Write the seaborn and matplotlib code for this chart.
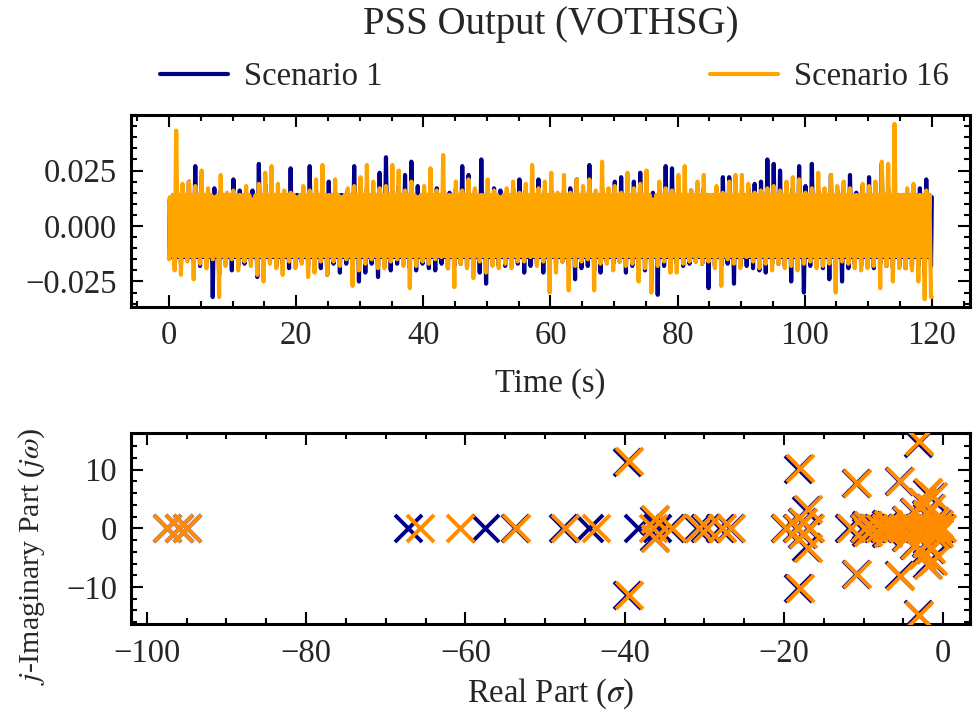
import numpy as np
import pandas as pd
import matplotlib
matplotlib.use("Agg")
import matplotlib.pyplot as plt
import seaborn as sns
from matplotlib.ticker import MultipleLocator

# ---------------- data ----------------
series_names = ["Scenario 1", "Scenario 16"]
title_text = "PSS Output (VOTHSG)"

# PSS output: per-second local maxima / minima of each scenario (t = 0 ... 119 s)
s16_hi = [0.013, 0.043, 0.019, 0.020, 0.018, 0.025, 0.017, 0.013, 0.023, 0.015,
          0.016, 0.014, 0.018, 0.012, 0.019, 0.024, 0.027, 0.019, 0.016, 0.015,
          0.013, 0.018, 0.016, 0.021, 0.0275, 0.014, 0.021, 0.013, 0.017, 0.018,
          0.022, 0.0275, 0.020, 0.017, 0.018, 0.0275, 0.025, 0.016, 0.020, 0.013,
          0.018, 0.026, 0.016, 0.032, 0.014, 0.020, 0.016, 0.021, 0.017, 0.014,
          0.021, 0.016, 0.013, 0.017, 0.020, 0.015, 0.019, 0.0275, 0.017, 0.020,
          0.024, 0.015, 0.023, 0.015, 0.021, 0.018, 0.021, 0.016, 0.029, 0.017,
          0.018, 0.015, 0.024, 0.017, 0.019, 0.025, 0.012, 0.020, 0.017, 0.016,
          0.023, 0.027, 0.016, 0.020, 0.023, 0.014, 0.018, 0.015, 0.020, 0.023,
          0.023, 0.019, 0.015, 0.016, 0.017, 0.018, 0.016, 0.020, 0.022, 0.021,
          0.015, 0.017, 0.024, 0.017, 0.023, 0.018, 0.020, 0.017, 0.014, 0.019,
          0.018, 0.020, 0.029, 0.028, 0.046, 0.014, 0.017, 0.019, 0.014, 0.016]
s16_lo = [-0.020, -0.022, -0.016, -0.024, -0.017, -0.019, -0.015, -0.032, -0.018, -0.015,
          -0.020, -0.016, -0.018, -0.022, -0.025, -0.017, -0.019, -0.022, -0.016, -0.019,
          -0.017, -0.023, -0.021, -0.016, -0.022, -0.016, -0.018, -0.015, -0.027, -0.020,
          -0.017, -0.015, -0.019, -0.019, -0.016, -0.015, -0.018, -0.028, -0.018, -0.016,
          -0.017, -0.015, -0.014, -0.019, -0.0275, -0.017, -0.019, -0.0235, -0.016, -0.021,
          -0.018, -0.019, -0.017, -0.019, -0.016, -0.016, -0.014, -0.018, -0.016, -0.030,
          -0.021, -0.016, -0.029, -0.018, -0.016, -0.015, -0.029, -0.017, -0.017, -0.020,
          -0.016, -0.018, -0.017, -0.025, -0.019, -0.030, -0.018, -0.016, -0.021, -0.021,
          -0.017, -0.016, -0.016, -0.017, -0.016, -0.019, -0.027, -0.015, -0.017, -0.019,
          -0.014, -0.016, -0.019, -0.017, -0.020, -0.017, -0.019, -0.018, -0.020, -0.017,
          -0.016, -0.019, -0.018, -0.017, -0.030, -0.016, -0.017, -0.019, -0.020, -0.019,
          -0.018, -0.028, -0.018, -0.025, -0.019, -0.019, -0.020, -0.025, -0.033, -0.032]
s1_hi = [0.012, 0.014, 0.016, 0.020, 0.027, 0.022, 0.015, 0.017, 0.016, 0.014,
         0.021, 0.016, 0.015, 0.016, 0.028, 0.019, 0.015, 0.014, 0.012, 0.026,
         0.014, 0.013, 0.027, 0.016, 0.015, 0.020, 0.015, 0.014, 0.016, 0.027,
         0.016, 0.017, 0.015, 0.024, 0.031, 0.016, 0.018, 0.023, 0.029, 0.018,
         0.015, 0.014, 0.017, 0.016, 0.015, 0.017, 0.027, 0.023, 0.016, 0.030,
         0.015, 0.017, 0.016, 0.015, 0.017, 0.021, 0.016, 0.015, 0.021, 0.016,
         0.016, 0.014, 0.016, 0.017, 0.021, 0.016, 0.0275, 0.015, 0.017, 0.016,
         0.020, 0.022, 0.016, 0.020, 0.024, 0.016, 0.015, 0.016, 0.027, 0.026,
         0.016, 0.015, 0.016, 0.015, 0.017, 0.012, 0.016, 0.022, 0.022, 0.022,
         0.016, 0.017, 0.019, 0.020, 0.030, 0.028, 0.025, 0.016, 0.017, 0.027,
         0.018, 0.028, 0.016, 0.015, 0.023, 0.016, 0.017, 0.023, 0.015, 0.018,
         0.022, 0.016, 0.028, 0.017, 0.016, 0.012, 0.015, 0.016, 0.017, 0.021]
s1_lo = [-0.016, -0.017, -0.015, -0.016, -0.018, -0.017, -0.032, -0.022, -0.016, -0.020,
         -0.018, -0.017, -0.016, -0.023, -0.019, -0.016, -0.018, -0.017, -0.019, -0.018,
         -0.016, -0.018, -0.017, -0.019, -0.022, -0.017, -0.021, -0.017, -0.018, -0.025,
         -0.021, -0.017, -0.023, -0.018, -0.020, -0.017, -0.016, -0.019, -0.020, -0.017,
         -0.019, -0.020, -0.017, -0.019, -0.018, -0.017, -0.018, -0.018, -0.021, -0.026,
         -0.017, -0.018, -0.018, -0.016, -0.017, -0.021, -0.018, -0.017, -0.021, -0.018,
         -0.017, -0.016, -0.018, -0.024, -0.019, -0.018, -0.020, -0.021, -0.016, -0.017,
         -0.016, -0.021, -0.018, -0.019, -0.020, -0.025, -0.031, -0.018, -0.019, -0.017,
         -0.018, -0.017, -0.016, -0.017, -0.028, -0.018, -0.018, -0.017, -0.026, -0.018,
         -0.018, -0.019, -0.020, -0.021, -0.017, -0.017, -0.018, -0.025, -0.018, -0.030,
         -0.018, -0.017, -0.019, -0.024, -0.018, -0.025, -0.019, -0.017, -0.018, -0.017,
         -0.019, -0.017, -0.018, -0.019, -0.018, -0.019, -0.018, -0.018, -0.022, -0.018]
# edges of the dense core band each trace keeps returning to (upper, lower)
s1_band = [0.014, -0.014]
s16_band = [0.014, -0.0135]
s1_start, s1_end = -0.014, 0.013
s16_start, s16_end = -0.015, -0.032
t_end = 120.0

# Eigenvalues (real part sigma, imaginary part omega)
eig1_re = [-97.5, -96.0, -95.0, -67.2, -57.6, -53.8, -47.7, -44.5, -38.3, -36.0, -34.3,
           -30.9, -29.9, -28.0, -26.8, -19.9, -18.4, -16.9, -11.8, -10.0, -9.0, -8.2,
           -7.4, -6.7, -6.0, -5.2, -4.5, -3.8, -3.1, -2.4, -1.7, -1.0, -0.4,
           -39.7, -39.7, -36.3, -36.3, -17.7, -17.7, -17.2, -17.2, -18.2, -18.2,
           -11.0, -11.0, -9.7, -9.7, -7.2, -7.2, -5.6, -5.6, -4.7, -4.7, -3.2, -3.2,
           -2.7, -2.7, -2.1, -2.1, -1.5, -1.5, -2.2, -2.2, -1.2, -1.2, -3.7, -3.7,
           -0.7, -0.7, -1.7, -1.7]
eig1_im = [0.0] * 33 + [11.3, -11.3, 1.5, -1.5, 1.0, -1.0, 3.2, -3.2, 10.1, -10.1,
                        7.7, -7.7, 0.6, -0.6, 0.8, -0.8, 8.0, -8.0, 1.5, -1.5, 14.6, -14.6,
                        4.4, -4.4, 6.1, -6.1, 5.4, -5.4, 2.5, -2.5, 1.2, -1.2, 2.8, -2.8,
                        0.8, -0.8, 3.5, -3.5]
eig16_re = [-97.5, -96.0, -95.0, -65.7, -60.7, -53.6, -47.5, -43.6, -36.4, -34.1,
            -30.7, -29.7, -27.8, -26.6, -19.8, -18.2, -16.7, -11.6, -9.8, -8.8, -8.0,
            -7.2, -6.5, -5.8, -5.0, -4.3, -3.6, -2.9, -2.2, -1.5, -0.8, -0.2,
            -39.5, -39.5, -36.2, -36.2, -17.6, -17.6, -17.0, -17.0, -18.0, -18.0,
            -10.8, -10.8, -9.5, -9.5, -7.0, -7.0, -5.4, -5.4, -4.5, -4.5, -3.0, -3.0,
            -2.5, -2.5, -1.9, -1.9, -1.3, -1.3, -2.0, -2.0, -1.0, -1.0, -3.5, -3.5,
            -0.5, -0.5, -1.5, -1.5]
eig16_im = [0.0] * 32 + [11.4, -11.4, 1.6, -1.6, 1.0, -1.0, 3.3, -3.3, 10.2, -10.2,
                         7.8, -7.8, 0.6, -0.6, 0.8, -0.8, 8.1, -8.1, 1.5, -1.5, 14.8, -14.8,
                         4.5, -4.5, 6.2, -6.2, 5.5, -5.5, 2.5, -2.5, 1.2, -1.2, 2.8, -2.8,
                         0.8, -0.8, 3.5, -3.5]

# ---------------- build tables ----------------
def trace(hi, lo, band, start, end):
    t = [0.0]
    v = [start]
    for k in range(len(hi)):
        t += [k + 0.125, k + 0.375, k + 0.625, k + 0.875]
        v += [hi[k], band[1], band[0], lo[k]]
    t.append(t_end)
    v.append(end)
    return pd.DataFrame({"t": t, "v": v})

df1 = trace(s1_hi, s1_lo, s1_band, s1_start, s1_end)
df16 = trace(s16_hi, s16_lo, s16_band, s16_start, s16_end)
eig1 = pd.DataFrame({"re": eig1_re, "im": eig1_im})
eig16 = pd.DataFrame({"re": eig16_re, "im": eig16_im})

# ---------------- style ----------------
sns.set_theme(style="ticks")
plt.rcParams["font.family"] = ["Liberation Serif", "DejaVu Serif"]
plt.rcParams["mathtext.fontset"] = "stix"
plt.rcParams["axes.linewidth"] = 2.2

C1 = "#00008B"
C16 = "#FFA500"
C16m = "#FF8C00"
FS = 23.5

fig = plt.figure(figsize=(9.77, 7.15), dpi=100)
ax1 = fig.add_axes([0.134, 0.5706, 0.8588, 0.2685])
ax2 = fig.add_axes([0.134, 0.1269, 0.8588, 0.2680])

sns.lineplot(data=df1, x="t", y="v", color=C1, lw=3.0, ax=ax1,
             estimator=None, sort=False, label=series_names[0])
sns.lineplot(data=df16, x="t", y="v", color=C16, lw=3.0, ax=ax1,
             estimator=None, sort=False, label=series_names[1])

sns.scatterplot(data=eig1, x="re", y="im", color=C1, marker="x", s=380,
                linewidth=2.8, ax=ax2, zorder=3)
sns.scatterplot(data=eig16, x="re", y="im", color=C16m, marker="x", s=380,
                linewidth=2.8, ax=ax2, zorder=4)

ax1.set_xlim(-6, 126)
ax1.set_ylim(-0.0365, 0.050)
ax1.set_yticks([-0.025, 0.0, 0.025])
ax1.xaxis.set_major_locator(MultipleLocator(20))
ax1.xaxis.set_minor_locator(MultipleLocator(5))
ax1.yaxis.set_minor_locator(MultipleLocator(0.005))
ax1.set_xlabel("Time (s)", fontsize=FS, labelpad=12)
ax1.set_ylabel("")

ax2.set_xlim(-102, 3.35)
ax2.set_ylim(-16.35, 16.3)
ax2.xaxis.set_major_locator(MultipleLocator(20))
ax2.xaxis.set_minor_locator(MultipleLocator(5))
ax2.yaxis.set_major_locator(MultipleLocator(10))
ax2.yaxis.set_minor_locator(MultipleLocator(2))
ax2.set_xlabel(r"Real Part ($\sigma$)", fontsize=FS, labelpad=6)
ax2.set_ylabel(r"$j$-Imaginary Part ($j\omega$)", fontsize=21.5)
ax2.yaxis.set_label_coords(-0.100, 0.356)

for ax in (ax1, ax2):
    ax.tick_params(which="both", direction="in", top=True, right=True,
                   labelsize=FS, width=1.5, color="black")
    ax.tick_params(which="major", length=8.5, pad=10)
    ax.tick_params(which="minor", length=4)
    for sp in ax.spines.values():
        sp.set_linewidth(2.2)
        sp.set_color("black")

handles, labels = ax1.get_legend_handles_labels()
ax1.get_legend().remove()
leg = fig.legend(handles, labels, loc="lower left", ncol=2, mode="expand",
                 bbox_to_anchor=(0.15, 0.853, 0.835, 0.06), frameon=False,
                 fontsize=FS, handlelength=2.1, handletextpad=0.5,
                 borderaxespad=0)
for ln in leg.get_lines():
    ln.set_linewidth(3.0)

fig.suptitle(title_text, x=0.5634, y=0.992, va="top", fontsize=28)

fig.savefig("out.png", dpi=100)
